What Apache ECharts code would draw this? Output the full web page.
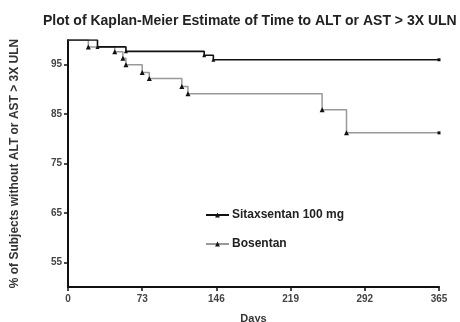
<!DOCTYPE html>
<html>
<head>
<meta charset="utf-8">
<script src="https://cdn.jsdelivr.net/npm/echarts@6/dist/echarts.min.js"></script>
<style>
  html, body { margin: 0; padding: 0; background: #fff; }
  #chart { width: 460px; height: 322px; }
</style>
</head>
<body>
<div id="chart"></div>
<script>
// Kaplan-Meier step curves: event days and survival (%) after each step
const sitaxDays = [0, 29, 57, 134, 143, 365];
const sitaxPct  = [100, 98.6, 97.7, 96.9, 96.0, 96.0];
const bosDays   = [0, 20, 46, 54, 57, 73, 80, 112, 118, 250, 274, 365];
const bosPct    = [100, 98.6, 97.6, 96.3, 95.0, 93.4, 92.2, 90.6, 89.1, 85.9, 81.2, 81.2];

const xTicks = [0, 73, 146, 219, 292, 365];
const yTicks = [55, 65, 75, 85, 95];

const seriesNames = ['Sitaxsentan 100 mg', 'Bosentan'];

function pairs(days, pct) {
  return days.map((d, i) => {
    const p = { value: [d, pct[i]] };
    if (i === 0) p.symbol = 'none';
    if (i === days.length - 1) { p.symbol = 'rect'; p.symbolSize = 3; }
    return p;
  });
}

const chart = echarts.init(document.getElementById('chart'), null, { renderer: 'canvas' });
const fontFamily = '"Liberation Sans", Arial, Helvetica, sans-serif';

chart.setOption({
  backgroundColor: '#ffffff',
  animation: false,
  title: {
    text: 'Plot of Kaplan-Meier Estimate of Time to ALT or AST > 3X ULN',
    left: 38,
    top: 9,
    textStyle: { fontFamily, fontSize: 14, fontWeight: 'bold', color: '#222' }
  },
  legend: {
    orient: 'vertical',
    left: 200,
    top: 204,
    itemGap: 17,
    itemWidth: 23,
    itemHeight: 6,
    data: seriesNames,
    textStyle: { fontFamily, fontSize: 12, fontWeight: 'bold', color: '#222', padding: [0, 0, 0, -2] }
  },
  grid: {
    left: 68, right: 21, top: 40, bottom: 35,
    outerBoundsMode: 'none'
  },
  xAxis: {
    type: 'value',
    min: 0, max: 365, interval: 73,
    name: 'Days',
    nameLocation: 'middle',
    nameGap: 26,
    nameTextStyle: { fontFamily, fontSize: 11, fontWeight: 'bold', color: '#333' },
    axisLine: { lineStyle: { color: '#111', width: 2 } },
    axisTick: { show: true, length: 4, lineStyle: { color: '#111', width: 1.5 } },
    axisLabel: {
      fontFamily, fontSize: 10, fontWeight: 'bold', color: '#444', margin: 7,
      formatter: v => (xTicks.indexOf(v) >= 0 ? String(v) : '')
    },
    splitLine: { show: false }
  },
  yAxis: {
    type: 'value',
    min: 50, max: 100,
    name: '% of Subjects without ALT or AST > 3X ULN',
    nameLocation: 'middle',
    nameGap: 47,
    nameTextStyle: { fontFamily, fontSize: 12, fontWeight: 'bold', color: '#333' },
    axisLine: { show: true, lineStyle: { color: '#111', width: 2 } },
    axisTick: { show: true, length: 4, customValues: yTicks, lineStyle: { color: '#111', width: 1.5 } },
    axisLabel: {
      fontFamily, fontSize: 10, fontWeight: 'bold', color: '#444', margin: 6,
      customValues: yTicks
    },
    splitLine: { show: false }
  },
  series: [
    {
      name: seriesNames[0],
      type: 'line',
      step: 'end',
      data: pairs(sitaxDays, sitaxPct),
      symbol: 'triangle',
      symbolSize: 4,
      showAllSymbol: true,
      itemStyle: { color: '#111' },
      lineStyle: { color: '#111', width: 1.6 },
      z: 3
    },
    {
      name: seriesNames[1],
      type: 'line',
      step: 'end',
      data: pairs(bosDays, bosPct),
      symbol: 'triangle',
      symbolSize: 5,
      showAllSymbol: true,
      itemStyle: { color: '#111' },
      lineStyle: { color: '#999', width: 1.5 },
      z: 2
    }
  ]
});
</script>
</body>
</html>
